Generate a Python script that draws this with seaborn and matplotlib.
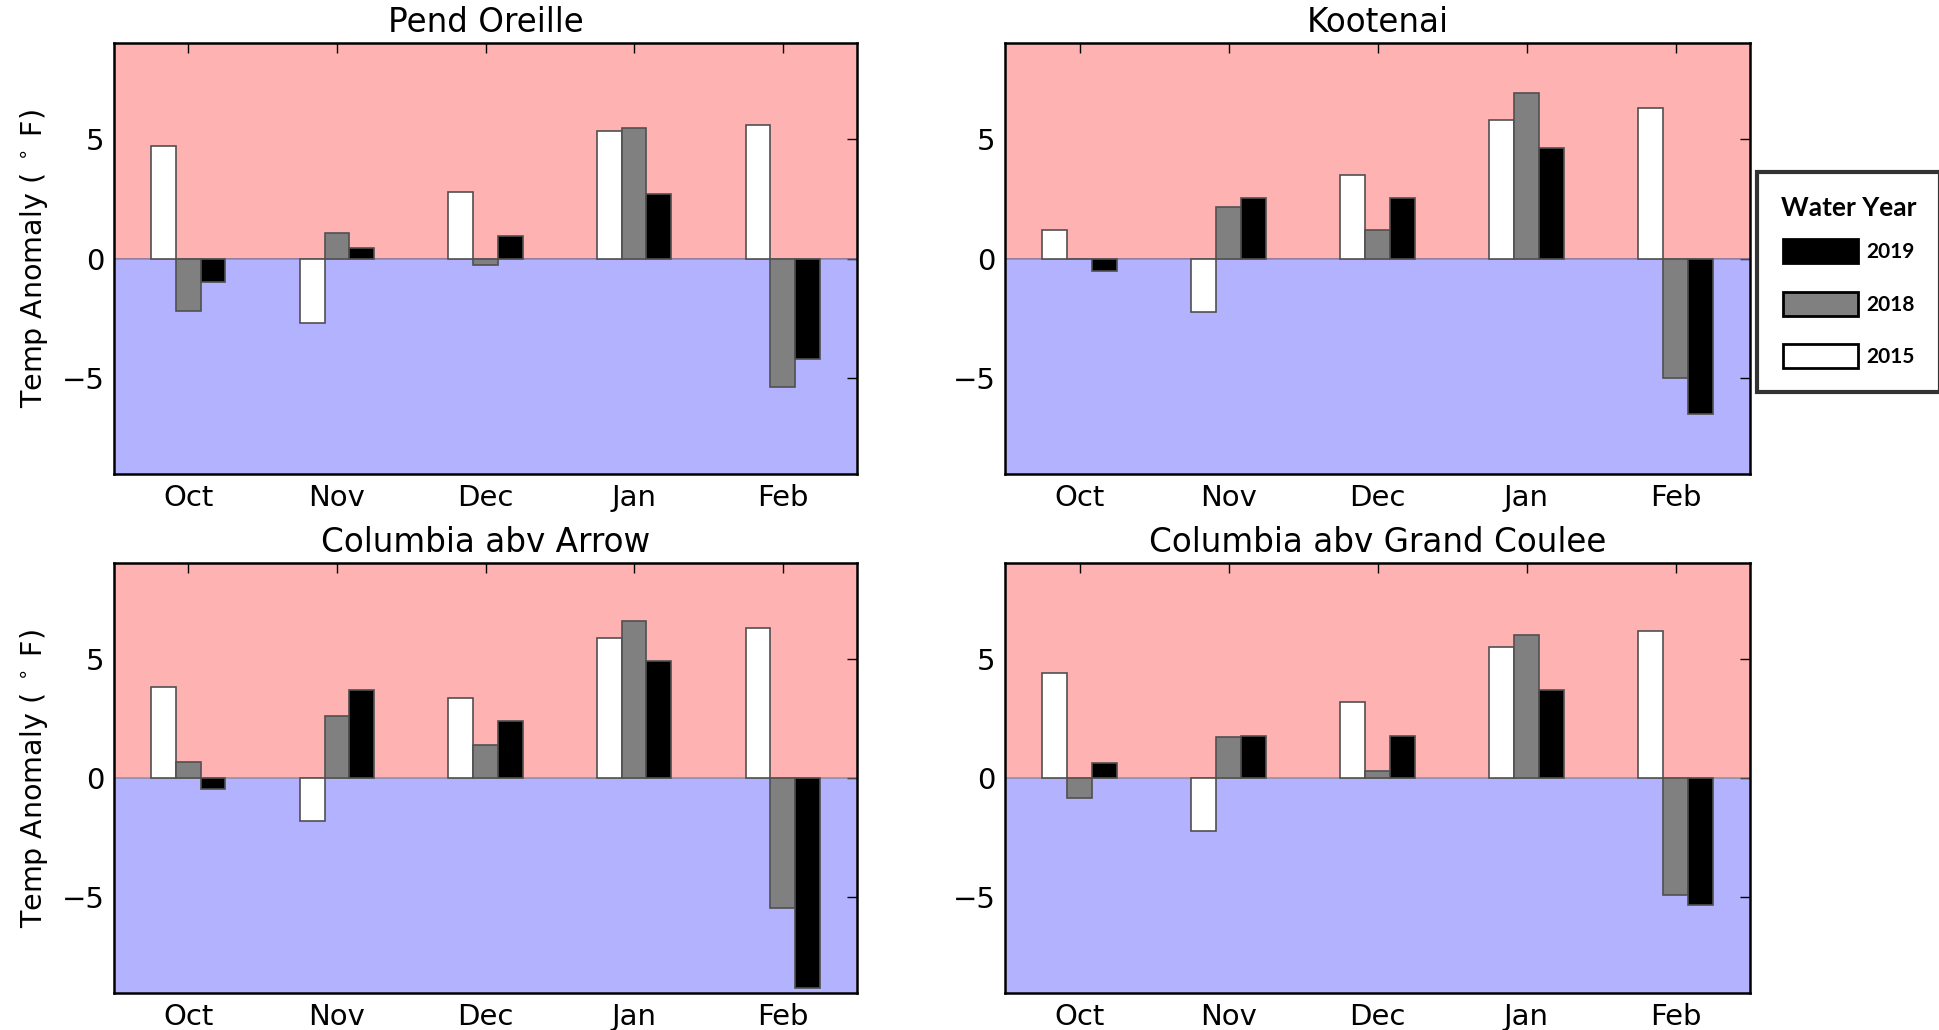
import numpy as np
import pandas as pd
import seaborn as sns
import matplotlib
matplotlib.use('Agg')
import matplotlib.pyplot as plt
from matplotlib.patches import Patch

months = ['Oct', 'Nov', 'Dec', 'Jan', 'Feb']
years = ['2015', '2018', '2019']
basins = ['Pend Oreille', 'Kootenai', 'Columbia abv Arrow', 'Columbia abv Grand Coulee']

pend_2015 = [4.70, -2.68, 2.79, 5.32, 5.58]
pend_2018 = [-2.20, 1.05, -0.28, 5.43, -5.37]
pend_2019 = [-0.99, 0.44, 0.94, 2.71, -4.19]

koot_2015 = [1.20, -2.25, 3.49, 5.80, 6.28]
koot_2018 = [0.0, 2.13, 1.20, 6.91, -4.99]
koot_2019 = [-0.51, 2.51, 2.51, 4.61, -6.48]

arrow_2015 = [3.80, -1.81, 3.35, 5.87, 6.26]
arrow_2018 = [0.66, 2.59, 1.37, 6.59, -5.44]
arrow_2019 = [-0.46, 3.68, 2.37, 4.90, -8.80]

gc_2015 = [4.38, -2.20, 3.19, 5.48, 6.15]
gc_2018 = [-0.83, 1.70, 0.29, 5.98, -4.89]
gc_2019 = [0.62, 1.77, 1.77, 3.68, -5.33]

series = {
    'Pend Oreille': [pend_2015, pend_2018, pend_2019],
    'Kootenai': [koot_2015, koot_2018, koot_2019],
    'Columbia abv Arrow': [arrow_2015, arrow_2018, arrow_2019],
    'Columbia abv Grand Coulee': [gc_2015, gc_2018, gc_2019],
}

rows = []
for b in basins:
    for yr, vals in zip(years, series[b]):
        for m, v in zip(months, vals):
            rows.append({'basin': b, 'year': yr, 'month': m, 'anom': v})
df = pd.DataFrame(rows)

palette = {'2015': 'white', '2018': 'gray', '2019': 'black'}

sns.set_style('white')
plt.rcParams['font.family'] = ['DejaVu Sans']
plt.rcParams['mathtext.fontset'] = 'dejavusans'
plt.rcParams['text.color'] = 'black'
plt.rcParams['axes.labelcolor'] = 'black'
plt.rcParams['xtick.color'] = 'black'
plt.rcParams['ytick.color'] = 'black'

W, H = 1939, 1030
fig = plt.figure(figsize=(W / 100, H / 100), dpi=100)

# axes boxes in pixels: left, top, right, bottom
boxes = [(114, 43, 857, 474), (1005, 43, 1750, 474),
         (114, 563, 857, 993), (1005, 563, 1750, 993)]

for i, (b, (l, t, r, btm)) in enumerate(zip(basins, boxes)):
    ax = fig.add_axes([l / W, 1 - btm / H, (r - l) / W, (btm - t) / H])
    ax.axhspan(0, 9, color='red', alpha=0.3, lw=0, zorder=0)
    ax.axhspan(-9, 0, color='blue', alpha=0.3, lw=0, zorder=0)
    sns.barplot(data=df[df.basin == b], x='month', y='anom', hue='year',
                hue_order=years, order=months, palette=palette,
                width=0.5, edgecolor='#505050', linewidth=1.2,
                legend=False, ax=ax, zorder=2)
    ax.axhline(0, color='#808080', lw=1.2, alpha=0.7, zorder=1)
    ax.set_ylim(-9, 9)
    ax.set_xlim(-0.5, 4.5)
    ax.set_yticks([-5, 0, 5])
    ax.set_title(b, fontsize=23.5, pad=8)
    ax.set_xlabel('')
    if i % 2 == 0:
        ax.set_ylabel(r'Temp Anomaly ($\;^\circ\;$F)', fontsize=20.5, labelpad=8)
    else:
        ax.set_ylabel('')
    ax.tick_params(direction='in', length=7, width=1, top=True, right=True,
                   labelsize=21, pad=7)
    for s in ax.spines.values():
        s.set_linewidth(1.8)
        s.set_color('black')

handles = [Patch(facecolor='black', edgecolor='black', lw=2),
           Patch(facecolor='gray', edgecolor='black', lw=2),
           Patch(facecolor='white', edgecolor='black', lw=2)]
leg = fig.legend(handles, ['2019', '2018', '2015'], title='Water Year',
                 loc='upper left', bbox_to_anchor=(1757 / W, 1 - 172 / H),
                 frameon=True, fancybox=False, edgecolor='black',
                 handlelength=3.6, handleheight=1.4, labelspacing=1.35,
                 borderpad=1.15, handletextpad=0.4, borderaxespad=0,
                 prop={'family': 'Lato', 'weight': 'bold', 'size': 15},
                 title_fontproperties={'family': 'Lato', 'weight': 'bold', 'size': 19})
leg.get_frame().set_linewidth(3)
leg._legend_box.sep = 14

fig.savefig('out.png', dpi=100, facecolor='white')
